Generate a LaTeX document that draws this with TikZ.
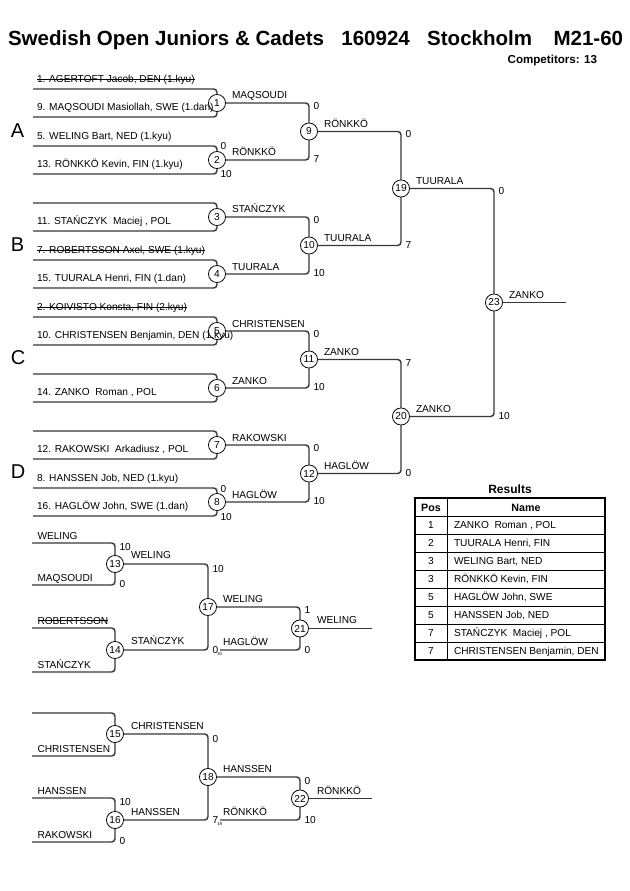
\documentclass[tikz,border=0pt]{standalone}
\usepackage{fontspec}
\setmainfont{Liberation Sans}
\begin{document}
\begin{tikzpicture}[x=0.75pt,y=-0.75pt,
 every node/.style={inner sep=0pt,outer sep=0pt},
 txt/.style={anchor=base west,font=\fontsize{7.6}{9}\selectfont},
 ln/.style={draw=black!78,line width=1.1pt,rounded corners=2.5pt},
 mc/.style={circle,draw=black,line width=0.6pt,fill=white,minimum size=12.8pt,font=\fontsize{7.6}{9}\selectfont},
 strk/.style={draw=black,line width=0.55pt},
 tinytxt/.style={anchor=base west,font=\fontsize{3.2}{4}\selectfont},
 gridln/.style={draw=black,line width=0.6pt},
 sect/.style={anchor=base west,font=\fontsize{15}{18}\selectfont},
]
\path[use as bounding box,fill=white] (0,0) rectangle (630,891);

% title
\node[anchor=base west,font=\bfseries\fontsize{15.4}{18}\selectfont] (title) at (8,46)
 {Swedish Open Juniors \& Cadets\hspace{13pt}160924\hspace{13pt}Stockholm\hspace{16pt}M21-60};
\node[anchor=base east,font=\bfseries\fontsize{8.7}{10}\selectfont] (comp) at (597,64) {Competitors: 13};

% section letters
\node[sect] (secA) at (11,137.5) {A};
\node[sect] (secB) at (11,251) {B};
\node[sect] (secC) at (11,364.5) {C};
\node[sect] (secD) at (11,478) {D};

% ---------- main bracket: round 1
\foreach \k in {1,...,8} {
  \pgfmathsetmacro\cy{103+57*(\k-1)}
  \node[mc] (m\k) at (217,\cy) {\k};
  \coordinate (a\k) at (33,\cy-14);
  \coordinate (b\k) at (33,\cy+14);
  \draw[ln] (a\k) -| (m\k.north);
  \draw[ln] (b\k) -| (m\k.south);
}
% round 2, 3, final
\node[mc] (m9)  at (309,131.5) {9};
\node[mc] (m10) at (309,245.5) {10};
\node[mc] (m11) at (309,359.5) {11};
\node[mc] (m12) at (309,473.5) {12};
\node[mc] (m19) at (401,188.5) {19};
\node[mc] (m20) at (401,416.5) {20};
\node[mc] (m23) at (494,302.5) {23};
\coordinate (fin) at (566,302.5);

\draw[ln] (m1.east) -| (m9.north);
\draw[ln] (m2.east) -| (m9.south);
\draw[ln] (m3.east) -| (m10.north);
\draw[ln] (m4.east) -| (m10.south);
\draw[ln] (m5.east) -| (m11.north);
\draw[ln] (m6.east) -| (m11.south);
\draw[ln] (m7.east) -| (m12.north);
\draw[ln] (m8.east) -| (m12.south);
\draw[ln] (m9.east) -| (m19.north);
\draw[ln] (m10.east) -| (m19.south);
\draw[ln] (m11.east) -| (m20.north);
\draw[ln] (m12.east) -| (m20.south);
\draw[ln] (m19.east) -| (m23.north);
\draw[ln] (m20.east) -| (m23.south);
\draw[ln] (m23.east) -- (fin);

% names
\node[txt] (n1a) at (37,82.5) {1. AGERTOFT Jacob, DEN (1.kyu)};
\node[txt] (n1b) at (37,110.5) {9. MAQSOUDI Masiollah, SWE (1.dan)};
\node[txt] (n2a) at (37,139.5) {5. WELING Bart, NED (1.kyu)};
\node[txt] (n2b) at (37,167.5) {13. RÖNKKÖ Kevin, FIN (1.kyu)};
\node[txt] (n3b) at (37,224.5) {11. STAŃCZYK\ \ Maciej , POL};
\node[txt] (n4a) at (37,253.5) {7. ROBERTSSON Axel, SWE (1.kyu)};
\node[txt] (n4b) at (37,281.5) {15. TUURALA Henri, FIN (1.dan)};
\node[txt] (n5a) at (37,310.5) {2. KOIVISTO Konsta, FIN (2.kyu)};
\node[txt] (n5b) at (37,338.5) {10. CHRISTENSEN Benjamin, DEN (1.kyu)};
\node[txt] (n6b) at (37,395.5) {14. ZANKO\ \ Roman , POL};
\node[txt] (n7b) at (37,452.5) {12. RAKOWSKI\ \ Arkadiusz , POL};
\node[txt] (n8a) at (37,481.5) {8. HANSSEN Job, NED (1.kyu)};
\node[txt] (n8b) at (37,509.5) {16. HAGLÖW John, SWE (1.dan)};
\foreach \n in {n1a,n4a,n5a} {
  \draw[strk] ([yshift=2.4pt]\n.base west) -- ([yshift=2.4pt]\n.base east);
}

% winner labels
\node[txt] (w1) at (232,99) {MAQSOUDI};
\node[txt] (w2) at (232,156) {RÖNKKÖ};
\node[txt] (w3) at (232,213) {STAŃCZYK};
\node[txt] (w4) at (232,270) {TUURALA};
\node[txt] (w5) at (232,327) {CHRISTENSEN};
\node[txt] (w6) at (232,384) {ZANKO};
\node[txt] (w7) at (232,441) {RAKOWSKI};
\node[txt] (w8) at (232,498) {HAGLÖW};
\node[txt] (w9) at (324,127.5) {RÖNKKÖ};
\node[txt] (w10) at (324,241.5) {TUURALA};
\node[txt] (w11) at (324,355.5) {ZANKO};
\node[txt] (w12) at (324,469.5) {HAGLÖW};
\node[txt] (w19) at (416,184.5) {TUURALA};
\node[txt] (w20) at (416,412.5) {ZANKO};
\node[txt] (w23) at (509,298.5) {ZANKO};

% scores
\node[txt] (s2a) at (220.5,150) {0};
\node[txt] (s2b) at (220.5,178) {10};
\node[txt] (s8a) at (220.5,492) {0};
\node[txt] (s8b) at (220.5,520) {10};
\node[txt] (s9a) at (313.5,109.5) {0};
\node[txt] (s9b) at (313.5,162.5) {7};
\node[txt] (s10a) at (313.5,223.5) {0};
\node[txt] (s10b) at (313.5,276.5) {10};
\node[txt] (s11a) at (313.5,337.5) {0};
\node[txt] (s11b) at (313.5,390.5) {10};
\node[txt] (s12a) at (313.5,451.5) {0};
\node[txt] (s12b) at (313.5,504.5) {10};
\node[txt] (s19a) at (405.5,138) {0};
\node[txt] (s19b) at (405.5,248) {7};
\node[txt] (s20a) at (405.5,366) {7};
\node[txt] (s20b) at (405.5,476) {0};
\node[txt] (s23a) at (498.5,195) {0};
\node[txt] (s23b) at (498.5,419) {10};

% ---------- repechage
\node[mc] (m13) at (115,564) {13};
\node[mc] (m14) at (115,650) {14};
\node[mc] (m17) at (208,607) {17};
\node[mc] (m21) at (300,628.5) {21};
\coordinate (a13) at (32,543);
\coordinate (b13) at (32,585);
\coordinate (a14) at (32,628);
\coordinate (b14) at (32,672);
\coordinate (hg) at (220,650);
\coordinate (f21) at (372,628.5);
\draw[ln] (a13) -| (m13.north);
\draw[ln] (b13) -| (m13.south);
\draw[ln] (a14) -| (m14.north);
\draw[ln] (b14) -| (m14.south);
\draw[ln] (m13.east) -| (m17.north);
\draw[ln] (m14.east) -| (m17.south);
\draw[ln] (m17.east) -| (m21.north);
\draw[ln] (hg) -| (m21.south);
\draw[ln] (m21.east) -- (f21);

\node[mc] (m15) at (115,734) {15};
\node[mc] (m16) at (115,820) {16};
\node[mc] (m18) at (208,777) {18};
\node[mc] (m22) at (300,798.5) {22};
\coordinate (a15) at (32,713);
\coordinate (b15) at (32,756);
\coordinate (a16) at (32,798);
\coordinate (b16) at (32,842);
\coordinate (rk) at (220,820);
\coordinate (f22) at (372,798.5);
\draw[ln] (a15) -| (m15.north);
\draw[ln] (b15) -| (m15.south);
\draw[ln] (a16) -| (m16.north);
\draw[ln] (b16) -| (m16.south);
\draw[ln] (m15.east) -| (m18.north);
\draw[ln] (m16.east) -| (m18.south);
\draw[ln] (m18.east) -| (m22.north);
\draw[ln] (rk) -| (m22.south);
\draw[ln] (m22.east) -- (f22);

% repechage names
\node[txt] (r13a) at (37.5,539) {WELING};
\node[txt] (r13b) at (37.5,581) {MAQSOUDI};
\node[txt] (r14a) at (37.5,624) {ROBERTSSON};
\node[txt] (r14b) at (37.5,668) {STAŃCZYK};
\draw[strk] ([yshift=2.4pt]r14a.base west) -- ([yshift=2.4pt]r14a.base east);
\node[txt] (r15b) at (37.5,752) {CHRISTENSEN};
\node[txt] (r16a) at (37.5,794) {HANSSEN};
\node[txt] (r16b) at (37.5,838) {RAKOWSKI};

% repechage winner labels
\node[txt] (w13) at (131,558) {WELING};
\node[txt] (w14) at (131,644) {STAŃCZYK};
\node[txt] (w17) at (223,602) {WELING};
\node[txt] (whg) at (223,645) {HAGLÖW};
\node[txt] (w21) at (317,623) {WELING};
\node[txt] (w15) at (131,729) {CHRISTENSEN};
\node[txt] (w16) at (131,815) {HANSSEN};
\node[txt] (w18) at (223,772) {HANSSEN};
\node[txt] (wrk) at (223,815) {RÖNKKÖ};
\node[txt] (w22) at (317,794) {RÖNKKÖ};

% repechage scores
\node[txt] (s13a) at (119.5,550) {10};
\node[txt] (s13b) at (119.5,587) {0};
\node[txt] (s16a) at (119.5,805) {10};
\node[txt] (s16b) at (119.5,844) {0};
\node[txt] (s17a) at (212.5,572) {10};
\node[txt] (s17b) at (212.5,653) {0};
\node[tinytxt] (t17) at (217.3,655.5) {20};
\node[txt] (s18a) at (212.5,742) {0};
\node[txt] (s18b) at (212.5,823) {7};
\node[tinytxt] (t18) at (217.3,825.5) {19};
\node[txt] (s21a) at (304.5,613) {1};
\node[txt] (s21b) at (304.5,653) {0};
\node[txt] (s22a) at (304.5,784) {0};
\node[txt] (s22b) at (304.5,823) {10};

% ---------- results table
\node[anchor=base,font=\bfseries\fontsize{9}{11}\selectfont] (restitle) at (510,493) {Results};
\foreach \yy in {516,534,...,642} { \draw[gridln] (415,\yy) -- (605,\yy); }
\draw[gridln] (447,498) -- (447,660);
\draw[draw=black,line width=1.4pt] (415,498) rectangle (605,660);
\node[anchor=base,font=\bfseries\fontsize{8}{10}\selectfont] (hpos) at (431,511) {Pos};
\node[anchor=base,font=\bfseries\fontsize{8}{10}\selectfont] (hname) at (526,511) {Name};
\foreach \p/\nm [count=\i from 0] in {1/{ZANKO\ \ Roman , POL},2/{TUURALA Henri, FIN},3/{WELING Bart, NED},3/{RÖNKKÖ Kevin, FIN},5/{HAGLÖW John, SWE},5/{HANSSEN Job, NED},7/{STAŃCZYK\ \ Maciej , POL},7/{CHRISTENSEN Benjamin, DEN}} {
  \pgfmathsetmacro\by{528.5+18*\i}
  \node[anchor=base,font=\fontsize{7.6}{9}\selectfont] (pos\i) at (431,\by) {\p};
  \node[txt] (nm\i) at (454,\by) {\nm};
}
\end{tikzpicture}
\end{document}
